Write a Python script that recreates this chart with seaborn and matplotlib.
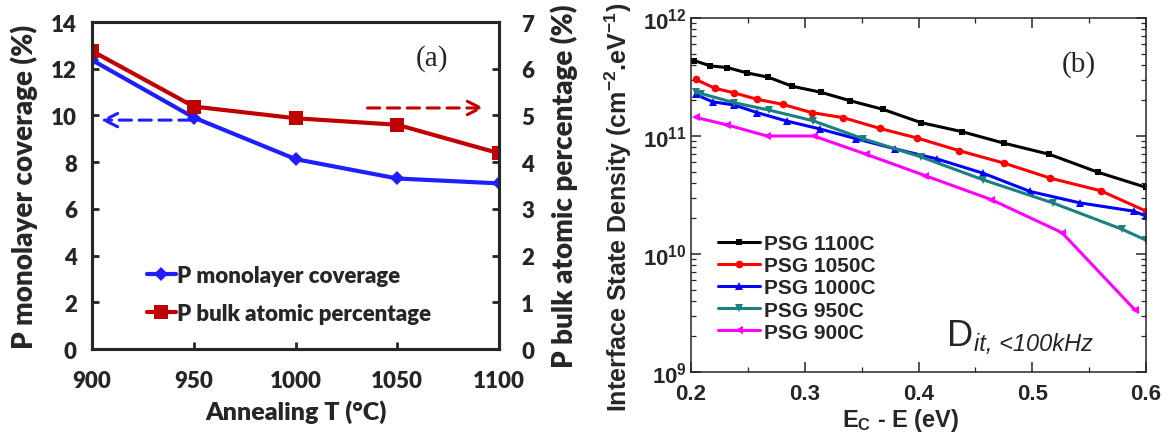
import numpy as np
import pandas as pd
import matplotlib
matplotlib.use("Agg")
import matplotlib.pyplot as plt
import seaborn as sns

# ---------------- data: panel (a) ----------------
anneal_T = [900, 950, 1000, 1050, 1100]
mono_cov = [12.37, 9.91, 8.13, 7.30, 7.09]      # left axis (%)
bulk_pct = [6.38, 5.19, 4.94, 4.80, 4.19]       # right axis (%)

# ---------------- data: panel (b) ----------------
e_1100 = [0.203, 0.217, 0.232, 0.249, 0.268, 0.289, 0.314, 0.340, 0.369, 0.402, 0.438, 0.475, 0.515, 0.558, 0.600]
d_1100 = [4.35e11, 3.93e11, 3.80e11, 3.43e11, 3.15e11, 2.64e11, 2.35e11, 1.99e11, 1.68e11, 1.30e11, 1.09e11, 8.7e10, 7.0e10, 4.92e10, 3.67e10]
e_1050 = [0.204, 0.221, 0.238, 0.258, 0.281, 0.306, 0.334, 0.366, 0.399, 0.436, 0.475, 0.516, 0.560, 0.600]
d_1050 = [3.02e11, 2.54e11, 2.32e11, 2.05e11, 1.85e11, 1.58e11, 1.43e11, 1.16e11, 9.6e10, 7.5e10, 5.9e10, 4.39e10, 3.44e10, 2.31e10]
e_1000 = [0.204, 0.219, 0.238, 0.258, 0.284, 0.313, 0.345, 0.379, 0.416, 0.457, 0.498, 0.542, 0.589, 0.600]
d_1000 = [2.25e11, 1.95e11, 1.83e11, 1.58e11, 1.34e11, 1.15e11, 9.5e10, 7.8e10, 6.4e10, 4.83e10, 3.39e10, 2.71e10, 2.31e10, 2.10e10]
e_950 = [0.204, 0.209, 0.2375, 0.2685, 0.307, 0.351, 0.402, 0.457, 0.518, 0.579, 0.600]
d_950 = [2.35e11, 2.29e11, 1.92e11, 1.66e11, 1.35e11, 9.5e10, 6.66e10, 4.25e10, 2.71e10, 1.62e10, 1.31e10]
e_900 = [0.204, 0.232, 0.267, 0.308, 0.354, 0.406, 0.464, 0.526, 0.590]
d_900 = [1.44e11, 1.24e11, 1.0e11, 1.0e11, 7.0e10, 4.61e10, 2.89e10, 1.52e10, 3.38e9]

series_b = [
    ("PSG 1100C", e_1100, d_1100, "black", "s", 4.5),
    ("PSG 1050C", e_1050, d_1050, "#ff0000", "o", 5.5),
    ("PSG 1000C", e_1000, d_1000, "#0000ff", "^", 5.5),
    ("PSG 950C", e_950, d_950, "#1a8080", "v", 5.5),
    ("PSG 900C", e_900, d_900, "#ff00ff", "<", 5.5),
]
ytick_vals = [1e9, 1e10, 1e11, 1e12]
ytick_labels = [r"$10^{9}$", r"$10^{10}$", r"$10^{11}$", r"$10^{12}$"]

sns.set_theme(style="ticks")
plt.rcParams["font.family"] = ["Liberation Sans", "DejaVu Sans"]
plt.rcParams["mathtext.fontset"] = "custom"
plt.rcParams["mathtext.rm"] = "Liberation Sans:bold"
plt.rcParams["mathtext.bf"] = "Liberation Sans:bold"
plt.rcParams["mathtext.it"] = "Liberation Sans:italic:bold"
plt.rcParams["mathtext.default"] = "bf"

fig = plt.figure(figsize=(11.68, 4.35), dpi=100)

# ================= panel (a) =================
ax1 = fig.add_axes([0.0788, 0.1954, 0.3485, 0.7517])
ax2 = ax1.twinx()
dfa = pd.DataFrame({"T": anneal_T, "mono": mono_cov, "bulk": bulk_pct})
sns.lineplot(data=dfa, x="T", y="mono", ax=ax1, color="#1e1eff", marker="D",
             markersize=7.5, linewidth=3, markeredgewidth=0, label="P monolayer coverage", legend=False)
sns.lineplot(data=dfa, x="T", y="bulk", ax=ax2, color="#c00000", marker="s",
             markersize=10, linewidth=3, markeredgewidth=0, label="P bulk atomic percentage", legend=False)
ax1.set_xlim(900, 1100)
ax1.set_ylim(0, 14)
ax2.set_ylim(0, 7)
ax1.set_xticks(anneal_T)
ax1.set_yticks(range(0, 15, 2))
ax2.set_yticks(range(0, 8, 1))
lab_font = dict(family="Lato", weight="heavy", size=20)
ax1.set_xlabel("Annealing T (°C)", fontdict=dict(family="Lato", weight="heavy", size=18))
ax1.set_ylabel("P monolayer coverage (%)", fontdict=lab_font)
ax2.set_ylabel("P bulk atomic percentage (%)", fontdict=lab_font)
ax1.xaxis.set_label_coords(0.5, -0.155)
ax1.yaxis.set_label_coords(-0.133, 0.5)
ax2.yaxis.set_label_coords(1.125, 0.5)
for ax in (ax1, ax2):
    for lbl in ax.get_xticklabels() + ax.get_yticklabels():
        lbl.set_fontfamily("Lato")
        lbl.set_fontweight("heavy")
        lbl.set_fontsize(16)
    for sp in ax.spines.values():
        sp.set_linewidth(2.2)
        sp.set_visible(True)
ax1.tick_params(axis="x", direction="in", length=5, width=2, pad=15)
ax1.tick_params(axis="y", direction="in", length=5, width=2, pad=11)
ax2.tick_params(axis="y", direction="in", length=5, width=2, pad=16)

# arrows
ax1.annotate("", xy=(903, 9.8), xytext=(950, 9.8),
             arrowprops=dict(arrowstyle="->", linestyle=(0, (4, 2.5)), color="#1e1eff", lw=2.2,
                             mutation_scale=24))
ax1.annotate("", xy=(1094, 10.32), xytext=(1034, 10.32),
             arrowprops=dict(arrowstyle="->", linestyle=(0, (4, 2.5)), color="#c00000", lw=2.2,
                             mutation_scale=24))
ax1.text(1067, 12.5, "(a)", family="Liberation Serif", fontsize=21, ha="center", va="center")

h1, l1 = ax1.get_legend_handles_labels()
h2, l2 = ax2.get_legend_handles_labels()
ax1.legend(h1 + h2, l1 + l2, loc="lower left", bbox_to_anchor=(0.113, 0.05), frameon=False,
           prop=dict(family="Lato", weight="heavy", size=16), handlelength=1.3, handletextpad=0.05,
           labelspacing=0.75, borderaxespad=0)

# ================= panel (b) =================
axb = fig.add_axes([0.5916, 0.1425, 0.3896, 0.8138])
for name, ex, dy, col, mk, ms in series_b:
    dfb = pd.DataFrame({"E": ex, "D": dy})
    sns.lineplot(data=dfb, x="E", y="D", ax=axb, color=col, marker=mk, markersize=ms,
                 linewidth=2.2, markeredgewidth=0, label=name, legend=False)
axb.set_yscale("log")
axb.set_xlim(0.2, 0.6)
axb.set_ylim(1e9, 1e12)
axb.set_yticks(ytick_vals, labels=ytick_labels)
axb.set_xticks([0.2, 0.3, 0.4, 0.5, 0.6])
axb.set_xticklabels(["0.2", "0.3", "0.4", "0.5", "0.6"])
axb.set_xticks([0.25, 0.35, 0.45, 0.55], minor=True)
axb.tick_params(axis="both", which="major", direction="in", length=7, width=1.1, top=True, right=True,
                labelsize=16)
axb.tick_params(axis="x", which="major", pad=8)
axb.tick_params(axis="y", which="major", pad=3)
axb.tick_params(axis="both", which="minor", direction="in", length=3.5, width=0.9, top=True, right=True)
for lbl in axb.get_xticklabels() + axb.get_yticklabels():
    lbl.set_fontweight("bold")
for sp in axb.spines.values():
    sp.set_linewidth(1.1)
    sp.set_visible(True)
axb.set_xlabel(r"E$_{C}$ - E (eV)", fontsize=17, fontweight="bold")
axb.set_ylabel(r"Interface State Density (cm$^{-2}$.eV$^{-1}$)", fontsize=18, fontweight="bold")
axb.xaxis.set_label_coords(0.46, -0.095)
axb.yaxis.set_label_coords(-0.125, 0.4675)
axb.text(0.853, 0.870, "(b)", transform=axb.transAxes, family="Liberation Serif", fontsize=21,
         ha="center", va="center")
axb.text(0.562, 0.076, "D", transform=axb.transAxes, fontsize=26, ha="left", va="baseline")
axb.text(0.621, 0.062, "it, <100kHz", transform=axb.transAxes, fontsize=17, style="italic",
         ha="left", va="baseline")
axb.legend(loc="lower left", bbox_to_anchor=(0.042, 0.062), frameon=False,
           prop=dict(weight="bold", size=15), handlelength=2.0, handletextpad=0.2,
           labelspacing=0.15, borderaxespad=0)

fig.savefig("out.png", dpi=100)
